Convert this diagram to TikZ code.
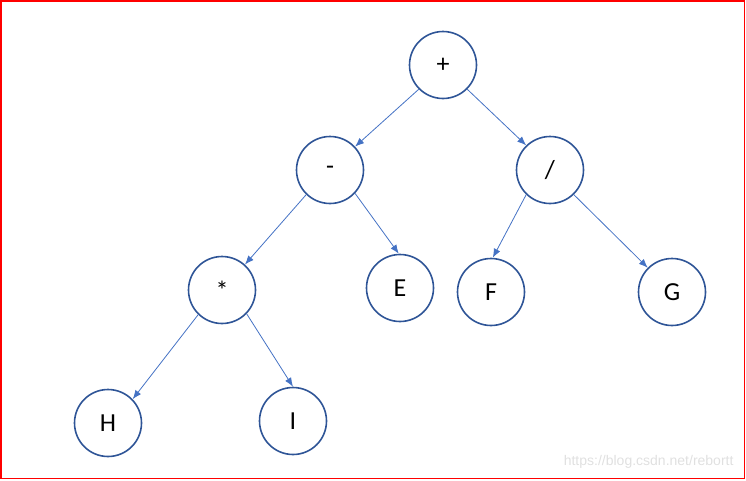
\documentclass[tikz,border=0pt]{standalone}
\usepackage{fontspec}
\setmainfont{Carlito}
\newfontfamily\wmfont{Liberation Sans}
\usetikzlibrary{arrows.meta}
\definecolor{ringblue}{HTML}{2F5597}
\definecolor{lineblue}{HTML}{4472C4}
\begin{document}
\begin{tikzpicture}[x=1pt,y=-1pt,
  tnode/.style={circle,draw=ringblue,line width=1.6pt,fill=white,minimum size=67pt,inner sep=0pt,font=\fontsize{26}{30}\selectfont},
  edge/.style={draw=lineblue,line width=0.8pt,-{Latex[length=9pt,width=7pt]}}]
\useasboundingbox (0,0) rectangle (746,480);
\draw[red,line width=1.5pt] (0.75,0.75) rectangle (744.5,478.5);
\node[tnode] (plus) at (443,65) {+};
\node[tnode] (minus) at (330,170) {-};
\node[tnode] (div) at (550,170) {/};
\node[tnode] (star) at (222,290) {*};
\node[tnode] (E) at (400,288) {E};
\node[tnode] (F) at (491,292) {F};
\node[tnode] (G) at (672,292) {G};
\node[tnode] (H) at (108,423) {H};
\node[tnode] (I) at (293,421) {I};
\draw[edge] (plus.225) -- (minus.43);
\draw[edge] (plus.315) -- (div.134);
\draw[edge] (minus.226) -- (star.48);
\draw[edge] (minus.317) -- (E.92);
\draw[edge] (div.226) -- (F.87);
\draw[edge] (div.314) -- (G.135);
\draw[edge] (star.226) -- (H.44);
\draw[edge] (star.316) -- (I.90);
\node[anchor=east,text=black!12,font=\fontsize{14}{16}\selectfont\wmfont] (wm) at (737,462) {https://blog.csdn.net/rebortt};
\end{tikzpicture}
\end{document}
